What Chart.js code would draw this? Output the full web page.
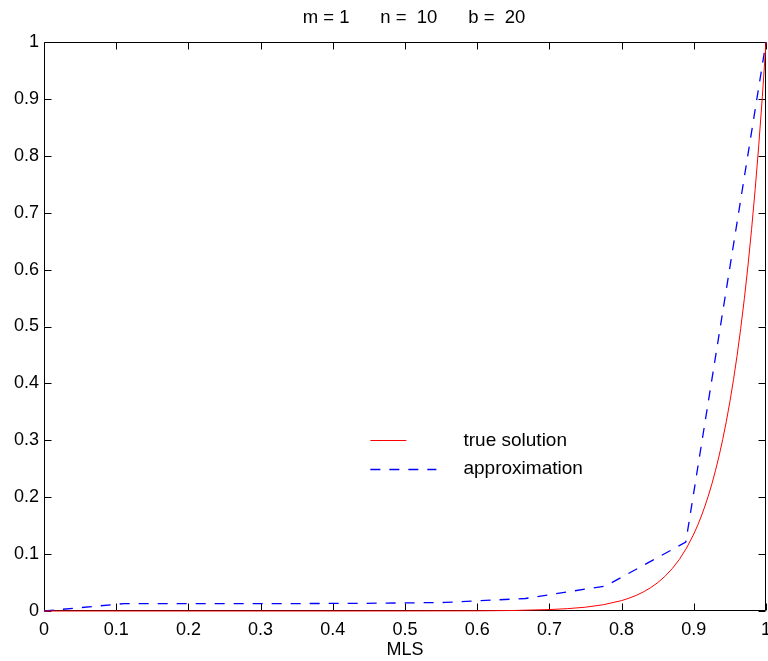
<!DOCTYPE html>
<html>
<head>
<meta charset="utf-8">
<script src="https://cdn.jsdelivr.net/npm/chart.js@4/dist/chart.umd.min.js"></script>
<style>
  html, body { margin: 0; padding: 0; background: #ffffff; }
  #wrap { width: 768px; height: 661px; }
</style>
</head>
<body>
<div id="wrap"><canvas id="c" width="768" height="661"></canvas></div>
<script>
// Exact solution sampled along MLS
const trueX = [0, 0.1, 0.2, 0.3, 0.4, 0.5, 0.6, 0.65, 0.7, 0.725, 0.75, 0.775,
               0.8, 0.81, 0.82, 0.83, 0.84, 0.85, 0.86, 0.87, 0.88, 0.89,
               0.9, 0.905, 0.91, 0.915, 0.92, 0.925, 0.93, 0.935, 0.94, 0.945,
               0.95, 0.955, 0.96, 0.965, 0.97, 0.975, 0.98, 0.985, 0.99, 0.995, 1];
const trueY = [0, 0, 0, 0, 0, 0.0001, 0.0003, 0.0009, 0.0025, 0.0041, 0.0067, 0.0111,
               0.0183, 0.0224, 0.0273, 0.0334, 0.0408, 0.0498, 0.0608, 0.0743, 0.0907, 0.1108,
               0.1353, 0.1496, 0.1653, 0.1827, 0.2019, 0.2231, 0.2466, 0.2725, 0.3012, 0.3329,
               0.3679, 0.4066, 0.4493, 0.4966, 0.5488, 0.6065, 0.6703, 0.7408, 0.8187, 0.9048, 1];

// Piecewise-linear approximation at the grid nodes
const approxX = [0, 0.1111, 0.2222, 0.3333, 0.4444, 0.5556, 0.6667, 0.7778, 0.8889, 1];
const approxY = [0, 0.013, 0.013, 0.013, 0.0135, 0.015, 0.022, 0.044, 0.121, 1];

const tickValues = [0, 0.1, 0.2, 0.3, 0.4, 0.5, 0.6, 0.7, 0.8, 0.9, 1];
const titleText = 'm = 1      n =  10      b =  20';
const xAxisTitle = 'MLS';
const seriesNames = ['true solution', 'approximation'];

const FONT = '"Liberation Sans", Arial, Helvetica, sans-serif';

const toPoints = (xs, ys) => xs.map((x, i) => ({ x: x, y: ys[i] }));
const fmt = v => String(Number(v.toFixed(1)));

// Box frame with inward tick marks on all four sides, title above the box, legend inside it
const framePlugin = {
  id: 'frame',
  beforeDatasetsDraw(chart) {
    const { ctx, chartArea: a, scales } = chart;
    const L = Math.round(a.left) + 0.5, R = Math.round(a.right) - 0.5;
    const T = Math.round(a.top) + 0.5, B = Math.round(a.bottom) - 0.5;
    const len = 7;
    ctx.save();
    ctx.strokeStyle = '#000000';
    ctx.lineWidth = 1;
    ctx.beginPath();
    ctx.rect(L, T, R - L, B - T);
    tickValues.forEach(v => {
      const px = Math.round(scales.x.getPixelForValue(v)) + 0.5;
      ctx.moveTo(px, B); ctx.lineTo(px, B - len);
      ctx.moveTo(px, T); ctx.lineTo(px, T + len);
      const py = Math.round(scales.y.getPixelForValue(v)) + 0.5;
      ctx.moveTo(L, py); ctx.lineTo(L + len, py);
      ctx.moveTo(R, py); ctx.lineTo(R - len, py);
    });
    ctx.stroke();

    // title, centred over the axes
    ctx.fillStyle = '#000000';
    ctx.font = '18.5px ' + FONT;
    ctx.textAlign = 'center';
    ctx.textBaseline = 'middle';
    ctx.fillText(titleText, (a.left + a.right) / 2 + 9, a.top - 24);
    ctx.restore();
  },
  afterDatasetsDraw(chart) {
    const { ctx, chartArea: a } = chart;
    const w = a.right - a.left, h = a.bottom - a.top;
    const x0 = a.left + w * 0.452;
    const textX = a.left + w * 0.581;
    const rows = [
      { y: a.top + h * 0.7003, len: 36, ds: chart.data.datasets[0] },
      { y: a.top + h * 0.7496, len: 66, ds: chart.data.datasets[1] }
    ];
    ctx.save();
    rows.forEach((r, i) => {
      ctx.strokeStyle = r.ds.borderColor;
      ctx.lineWidth = r.ds.borderWidth;
      ctx.setLineDash(r.ds.borderDash || []);
      ctx.beginPath();
      ctx.moveTo(x0, Math.round(r.y) + 0.5);
      ctx.lineTo(x0 + r.len, Math.round(r.y) + 0.5);
      ctx.stroke();
      ctx.setLineDash([]);
      ctx.fillStyle = '#000000';
      ctx.font = '19px ' + FONT;
      ctx.textBaseline = 'middle';
      ctx.textAlign = 'left';
      ctx.fillText(seriesNames[i], textX, r.y);
    });
    ctx.restore();
  }
};

new Chart(document.getElementById('c'), {
  type: 'scatter',
  data: {
    datasets: [
      {
        label: seriesNames[0],
        data: toPoints(trueX, trueY),
        showLine: true,
        borderColor: '#ff0000',
        borderWidth: 1,
        pointRadius: 0,
        tension: 0,
        clip: false
      },
      {
        label: seriesNames[1],
        data: toPoints(approxX, approxY),
        showLine: true,
        borderColor: '#0000ff',
        borderWidth: 1.3,
        borderDash: [10, 9],
        pointRadius: 0,
        tension: 0,
        clip: false
      }
    ]
  },
  options: {
    responsive: false,
    animation: false,
    devicePixelRatio: 1,
    layout: { padding: { top: 42, right: 2, bottom: 0, left: 0 } },
    plugins: {
      legend: { display: false },
      tooltip: { enabled: false },
      title: { display: false }
    },
    scales: {
      x: {
        type: 'linear',
        min: 0,
        max: 1,
        afterBuildTicks: s => { s.ticks = tickValues.map(v => ({ value: v })); },
        afterFit: s => { s.height = 50; s.paddingLeft = 0; s.paddingRight = 0; },
        grid: { display: false, drawTicks: false },
        border: { display: false },
        ticks: {
          color: '#000000',
          font: { family: FONT, size: 18 },
          padding: 8,
          maxRotation: 0,
          autoSkip: false,
          callback: v => fmt(v)
        },
        title: {
          display: true,
          text: xAxisTitle,
          color: '#000000',
          font: { family: FONT, size: 18 },
          padding: { top: 0, bottom: 0 }
        }
      },
      y: {
        type: 'linear',
        min: 0,
        max: 1,
        afterBuildTicks: s => { s.ticks = tickValues.map(v => ({ value: v })); },
        afterFit: s => { s.width = 44; s.paddingTop = 0; s.paddingBottom = 0; },
        grid: { display: false, drawTicks: false },
        border: { display: false },
        ticks: {
          color: '#000000',
          font: { family: FONT, size: 18 },
          padding: 5,
          autoSkip: false,
          callback: v => fmt(v)
        }
      }
    }
  },
  plugins: [framePlugin]
});
</script>
</body>
</html>
